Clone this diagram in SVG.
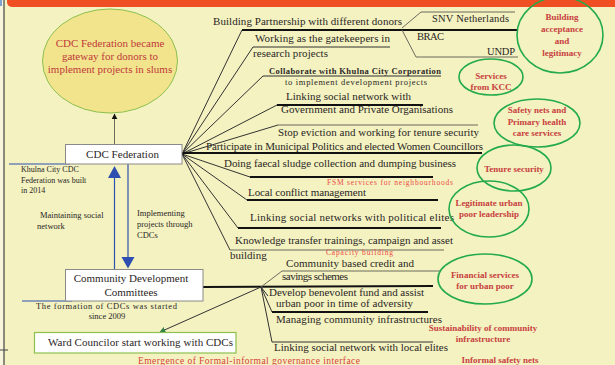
<svg xmlns="http://www.w3.org/2000/svg" width="615" height="365" viewBox="0 0 615 365" font-family="'Liberation Serif', 'Times New Roman', serif">
<defs>
<style>
text{font-family:'Liberation Serif','Times New Roman',serif;fill:#2b2626}
.t11{font-size:11px}
.t10{font-size:10.5px}
.t9{font-size:8.5px}
.t8{font-size:8px}
.red{fill:#c8403f;font-size:9px;font-weight:bold;text-anchor:middle}
.lred{fill:#ee4a45;font-size:7.5px}
.mid{text-anchor:middle}
.ell{fill:none;stroke:#23aa4a;stroke-width:1.6}
.thin{stroke:#333;stroke-width:1;fill:none}
.thick{stroke:#111;stroke-width:2;fill:none}
.grey{stroke:#6b6b5e;stroke-width:1;fill:none}
.blue{stroke:#2f4fb0;stroke-width:1.2;fill:none}
</style>
<marker id="ah" viewBox="0 0 10 10" refX="9" refY="5" markerWidth="6" markerHeight="6" orient="auto"><path d="M0,0 L10,5 L0,10 z" fill="#111"/></marker>
<marker id="ahg" viewBox="0 0 10 10" refX="9" refY="5" markerWidth="6" markerHeight="6" orient="auto"><path d="M0,0 L10,5 L0,10 z" fill="#2f7f4a"/></marker>
</defs>
<rect x="0" y="0" width="615" height="365" fill="#f3f2c0"/>
<rect x="0" y="0" width="4" height="365" fill="#f7f6dc"/>
<line x1="4" y1="0" x2="4" y2="365" stroke="#444" stroke-width="1.2"/>
<line x1="0" y1="350" x2="8" y2="350" stroke="#444" stroke-width="1"/>
<rect x="0" y="0" width="2" height="6" fill="#7fa0d0"/>
<path d="M7,0 H615 V7 H13 Q7,7 7,2 Z" fill="#f04e23"/>

<g id="connectors">
<line class="grey" x1="114.5" y1="145" x2="114.5" y2="114" marker-end="url(#ah)"/>
<line class="blue" x1="114.5" y1="269" x2="114.5" y2="178"/>
<path d="M108,178 L121,178 L114.5,166 Z" fill="#2f4fb0"/>
<line class="blue" x1="128" y1="164" x2="128" y2="258"/>
<path d="M121.5,257 L134.5,257 L128,268.5 Z" fill="#2f4fb0"/>
<line class="blue" x1="9" y1="164" x2="70" y2="164"/>
<line class="blue" x1="22" y1="301" x2="72" y2="301"/>
<g id="fed-fan">
<polyline class="thin" points="182,154 242,30"/>
<line class="thick" x1="242" y1="30" x2="518" y2="30"/>
<polyline class="grey" points="402,28 421,12 515,12"/>
<polyline class="grey" points="402,30 416,57 518,57"/>
<polyline class="thin" points="182,154 253,47 390,47"/>
<polyline class="thin" points="182,154 263,76 441,76"/>
<polyline class="thin" points="182,154 277,105"/>
<line class="thick" x1="277" y1="105" x2="423" y2="105"/>
<polyline class="thin" points="182,154 278,125"/>
<line class="grey" x1="278" y1="125" x2="478" y2="125" stroke-width="1.5"/>
<line class="thick" x1="182" y1="153" x2="482" y2="153" stroke-width="1.5"/>
<polyline class="thin" points="182,154 250,177"/>
<line class="thick" x1="250" y1="177" x2="433" y2="177"/>
<polyline class="thin" points="182,154 247,200"/>
<line class="thick" x1="247" y1="200" x2="438" y2="200"/>
<polyline class="thin" points="182,154 238,228"/>
<line class="thick" x1="238" y1="228" x2="441" y2="228" stroke-width="1.5"/>
<polyline class="thin" points="182,154 230,250"/>
<line class="grey" x1="230" y1="250" x2="444" y2="250" stroke-width="1.3"/>
<circle cx="182" cy="154" r="2" fill="#111"/>
</g>
<g id="cdc-fan">
<line class="thick" x1="203" y1="287" x2="433" y2="286"/>
<polyline class="grey" points="261,287 282,271 440,271"/>
<polyline class="thin" points="261,287 272,312" stroke-width="1.5"/>
<line class="thick" x1="272" y1="312" x2="428" y2="312"/>
<polyline class="thin" points="261,287 268,296"/>
<polyline class="thin" points="261,287 272,342 433,342"/>
<line class="thin" x1="261" y1="287" x2="160" y2="332" stroke-width="1.3" marker-end="url(#ahg)"/>
</g>
</g>

<g id="node-gateway">
<ellipse cx="110" cy="61" rx="67.5" ry="52" fill="#f2e48c" stroke="#8dc04f" stroke-width="1"/>
<text class="mid" x="110" y="47" style="fill:#c0393b;font-size:11px">CDC Federation became</text>
<text class="mid" x="110" y="60" style="fill:#c0393b;font-size:11px">gateway for donors to</text>
<text class="mid" x="110" y="73" style="fill:#c0393b;font-size:11px">implement projects in slums</text>
</g>

<g id="node-federation">
<rect x="65.5" y="144.5" width="116.5" height="19.5" fill="#fff" stroke="#8a8a8a" stroke-width="1"/>
<text class="t11" x="86" y="158" textLength="73">CDC Federation</text>
</g>
<g id="note-federation">
<text class="t8" x="21" y="172">Khulna City CDC</text>
<text class="t8" x="21" y="183">Federation was built</text>
<text class="t8" x="21" y="193">in 2014</text>
</g>
<g id="label-maintaining">
<text class="t9" x="40" y="218">Maintaining social</text>
<text class="t9" x="37" y="229">network</text>
</g>
<g id="label-implementing">
<text class="t9" x="137" y="216">Implementing</text>
<text class="t9" x="137" y="227">projects through</text>
<text class="t9" x="137" y="238">CDCs</text>
</g>

<g id="node-cdc">
<rect x="65.5" y="269.5" width="137.5" height="31.5" fill="#fff" stroke="#8a8a8a" stroke-width="1"/>
<text class="t11 mid" x="131" y="282">Community Development</text>
<text class="t11 mid" x="131" y="296">Committees</text>
</g>
<g id="note-cdc">
<text class="t9" x="36" y="309" textLength="141">The formation of CDCs was started</text>
<text class="t9 mid" x="107" y="319">since 2009</text>
</g>

<g id="node-ward">
<rect x="34.5" y="332.5" width="201.5" height="20.5" fill="#fff" stroke="#8dc04f" stroke-width="1.2"/>
<text class="t11" x="48" y="346" textLength="185">Ward Councilor start working with CDCs</text>
</g>
<text x="138" y="364" textLength="222" style="fill:#d9413a;font-size:9.5px">Emergence of Formal-informal governance interface</text>

<g id="roles">
<text class="t11" x="213" y="25" textLength="189">Building Partnership with different donors</text>
<text class="t10" x="432" y="22" textLength="77">SNV Netherlands</text>
<text class="t10" x="417" y="40" textLength="27">BRAC</text>
<text class="t10" x="487" y="55" textLength="28">UNDP</text>
<text class="t11" x="255" y="42" textLength="135">Working as the gatekeepers in</text>
<text class="t11" x="253" y="57" textLength="75">research projects</text>
<text class="t9" x="269" y="74" textLength="172" font-weight="bold">Collaborate with Khulna City Corporation</text>
<text class="t9" x="285" y="85" textLength="142">to implement development projects</text>
<text class="t11" x="286" y="100" textLength="125">Linking social network with</text>
<text class="t11" x="281" y="113" textLength="172">Government and Private Organisations</text>
<text class="t11" x="278" y="136" textLength="201">Stop eviction and working for tenure security</text>
<text class="t11" x="206" y="150" textLength="277">Participate in Municipal Politics and elected Women Councillors</text>
<text class="t11" x="224" y="167" textLength="232">Doing faecal sludge collection and dumping business</text>
<text class="lred" x="327" y="185" textLength="126">FSM services for neighbourhoods</text>
<text class="t11" x="248" y="196" textLength="118">Local conflict management</text>
<text class="t11" x="250" y="221" textLength="204">Linking social networks with political elites</text>
<text class="t11" x="235" y="244" textLength="218">Knowledge transfer trainings, campaign and asset</text>
<text class="t11" x="230" y="259">building</text>
<text class="lred" x="326" y="255" textLength="67">Capacity building</text>
<text class="t11" x="286" y="267" textLength="128">Community based credit and</text>
<text class="t11" x="282" y="280" textLength="66">savings schemes</text>
<text class="t11" x="269" y="296" textLength="155">Develop benevolent fund and assist</text>
<text class="t11" x="276" y="307" textLength="137">urban poor in time of adversity</text>
<text class="t11" x="276" y="323" textLength="166">Managing community infrastructures</text>
<text class="t11" x="274" y="351" textLength="174">Linking social network with local elites</text>
</g>

<g id="outcome-legitimacy">
<ellipse class="ell" cx="560" cy="35" rx="43" ry="38"/>
<text class="red" x="562" y="20">Building</text>
<text class="red" x="562" y="32">acceptance</text>
<text class="red" x="562" y="44">and</text>
<text class="red" x="562" y="56">legitimacy</text>
</g>
<g id="outcome-kcc">
<ellipse class="ell" cx="491" cy="77" rx="32" ry="18"/>
<text class="red" x="491" y="79">Services</text>
<text class="red" x="491" y="90">from KCC</text>
</g>
<g id="outcome-safety">
<ellipse class="ell" cx="537" cy="123" rx="43" ry="24"/>
<text class="red" x="537" y="113">Safety nets and</text>
<text class="red" x="537" y="125">Primary health</text>
<text class="red" x="537" y="136">care services</text>
</g>
<g id="outcome-tenure">
<ellipse class="ell" cx="514" cy="168" rx="37" ry="23"/>
<text class="red" x="514" y="172">Tenure security</text>
</g>
<g id="outcome-leadership">
<ellipse class="ell" cx="489" cy="209" rx="40" ry="28"/>
<text class="red" x="489" y="206">Legitimate urban</text>
<text class="red" x="489" y="217">poor leadership</text>
</g>
<g id="outcome-financial">
<ellipse class="ell" cx="485" cy="279" rx="47" ry="25"/>
<text class="red" x="485" y="278">Financial services</text>
<text class="red" x="485" y="289">for urban poor</text>
</g>
<g id="outcome-infra">
<text class="red" x="483" y="331">Sustainability of community</text>
<text class="red" x="483" y="342">infrastructure</text>
</g>
<g id="outcome-informal">
<text class="red" x="500" y="363">Informal safety nets</text>
</g>
</svg>
